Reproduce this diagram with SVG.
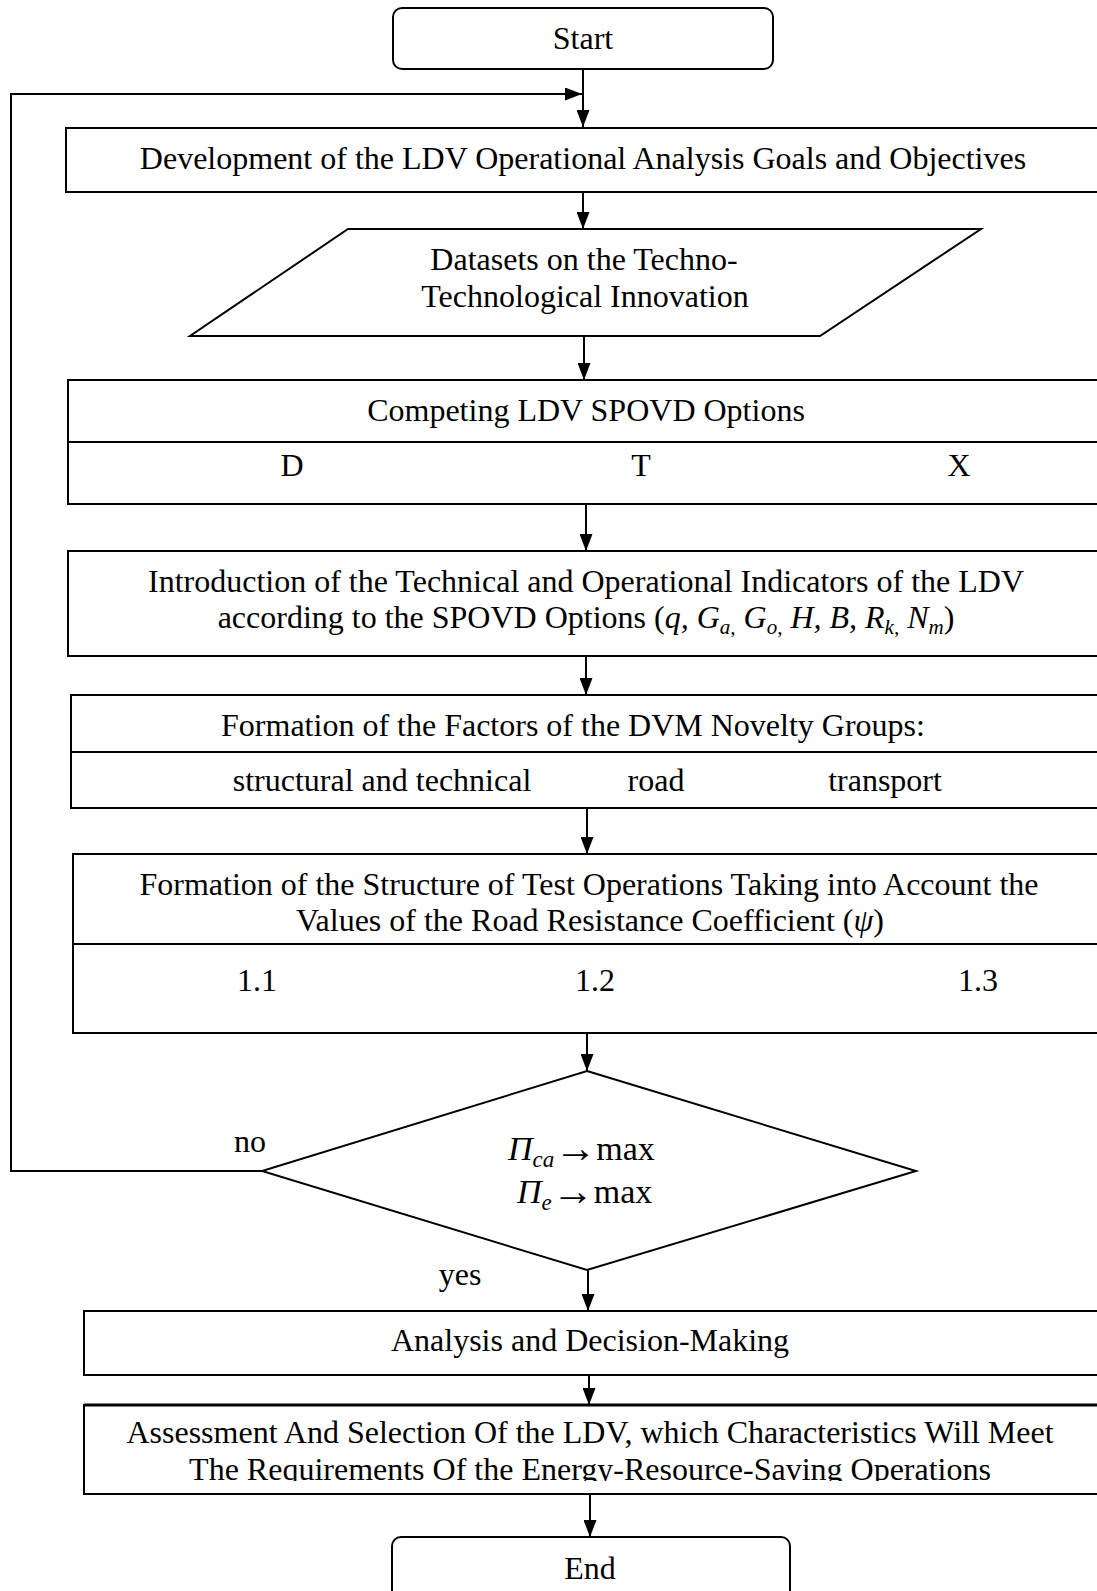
<svg xmlns="http://www.w3.org/2000/svg" width="1097" height="1591" viewBox="0 0 1097 1591">
<style>
.b{fill:#fff;stroke:#000;stroke-width:2}
.d{fill:none;stroke:#000;stroke-width:2}
.c{fill:none;stroke:#000;stroke-width:2}
text{font-family:"Liberation Serif","Times New Roman",serif;font-size:32px;fill:#000}
.m{text-anchor:middle}
.i{font-style:italic}
.big{font-size:34px}
.arr{font-size:42px}
</style>
<defs>
<marker id="ah" markerWidth="17" markerHeight="13" viewBox="0 0 17 13" refX="17" refY="6.5" orient="auto" markerUnits="userSpaceOnUse">
<path d="M0,0 L17,6.5 L0,13 Z" fill="#000"/>
</marker>
<clipPath id="clip8"><rect x="0" y="1405" width="1097" height="76"/></clipPath>
</defs>
<rect x="0" y="0" width="1097" height="1591" fill="#fff"/>
<g id="connectors">
<line class="c" x1="583" y1="70" x2="583" y2="127" marker-end="url(#ah)"/>
<polyline class="c" points="262,1171 11,1171 11,94 582,94" marker-end="url(#ah)"/>
<line class="c" x1="583" y1="193" x2="583" y2="229" marker-end="url(#ah)"/>
<line class="c" x1="584" y1="336" x2="584" y2="380" marker-end="url(#ah)"/>
<line class="c" x1="586" y1="504" x2="586" y2="551" marker-end="url(#ah)"/>
<line class="c" x1="586" y1="656" x2="586" y2="695" marker-end="url(#ah)"/>
<line class="c" x1="587" y1="808" x2="587" y2="854" marker-end="url(#ah)"/>
<line class="c" x1="587" y1="1033" x2="587" y2="1071" marker-end="url(#ah)"/>
<line class="c" x1="588" y1="1270" x2="588" y2="1311" marker-end="url(#ah)"/>
<line class="c" x1="589" y1="1375" x2="589" y2="1405" marker-end="url(#ah)"/>
<line class="c" x1="590" y1="1494" x2="590" y2="1537" marker-end="url(#ah)"/>
</g>
<g id="start">
<rect class="b" x="393" y="8" width="380" height="61" rx="9"/>
<text class="m" x="583" y="49">Start</text>
</g>
<g id="goals">
<rect class="b" x="66" y="128" width="1050" height="64"/>
<text class="m" x="583" y="169">Development of the LDV Operational Analysis Goals and Objectives</text>
</g>
<g id="datasets">
<polygon class="b" points="348,229 981,229 820,336 190,336"/>
<text class="m" x="584" y="270">Datasets on the Techno-</text>
<text class="m" x="585" y="307">Technological Innovation</text>
</g>
<g id="options">
<rect class="b" x="68" y="380" width="1050" height="124"/>
<line class="d" x1="68" y1="442" x2="1097" y2="442"/>
<text class="m" x="586" y="421">Competing LDV SPOVD Options</text>
<text class="m" x="292" y="476">D</text>
<text class="m" x="641" y="476">T</text>
<text class="m" x="959" y="476">X</text>
</g>
<g id="indicators">
<rect class="b" x="68" y="551" width="1050" height="105"/>
<text class="m" x="586" y="592">Introduction of the Technical and Operational Indicators of the LDV</text>
<text class="m" x="586" y="628">according to the SPOVD Options (<tspan class="i">q, G</tspan><tspan class="i" font-size="21" dy="6">a,</tspan><tspan class="i" dy="-6"> G</tspan><tspan class="i" font-size="21" dy="6">o,</tspan><tspan class="i" dy="-6"> H, B, R</tspan><tspan class="i" font-size="21" dy="6">k,</tspan><tspan class="i" dy="-6"> N</tspan><tspan class="i" font-size="21" dy="6">m</tspan><tspan dy="-6">)</tspan></text>
</g>
<g id="factors">
<rect class="b" x="71" y="695" width="1050" height="113"/>
<line class="d" x1="71" y1="752" x2="1097" y2="752"/>
<text class="m" x="573" y="736">Formation of the Factors of the DVM Novelty Groups:</text>
<text class="m" x="382" y="791">structural and technical</text>
<text class="m" x="656" y="791">road</text>
<text class="m" x="885" y="791">transport</text>
</g>
<g id="structure">
<rect class="b" x="73" y="854" width="1050" height="179"/>
<line class="d" x1="73" y1="944" x2="1097" y2="944"/>
<text class="m" x="589" y="895">Formation of the Structure of Test Operations Taking into Account the</text>
<text class="m" x="590" y="931">Values of the Road Resistance Coefficient (<tspan class="i">ψ</tspan>)</text>
<text class="m" x="257" y="991">1.1</text>
<text class="m" x="595" y="991">1.2</text>
<text class="m" x="978" y="991">1.3</text>
</g>
<g id="decision">
<polygon class="b" points="587,1071 916,1171 587,1270 262,1171"/>
<text class="big" x="508" y="1160"><tspan class="i">П</tspan><tspan class="i" font-size="23" dy="7">ca</tspan><tspan class="arr" dy="-5">→</tspan><tspan dy="-2">max</tspan></text>
<text class="big" x="517" y="1203"><tspan class="i">П</tspan><tspan class="i" font-size="23" dy="7">e</tspan><tspan class="arr" dy="-5">→</tspan><tspan dy="-2">max</tspan></text>
<text class="m" x="250" y="1152">no</text>
<text class="m" x="460" y="1285">yes</text>
</g>
<g id="analysis">
<rect class="b" x="84" y="1311" width="1050" height="64"/>
<text class="m" x="590" y="1351">Analysis and Decision-Making</text>
</g>
<g id="assessment">
<rect class="b" x="84" y="1405" width="1050" height="89"/>
<line x1="84" y1="1405" x2="1097" y2="1405" stroke="#000" stroke-width="3"/>
<g clip-path="url(#clip8)">
<text class="m" x="590" y="1443">Assessment And Selection Of the LDV, which Characteristics Will Meet</text>
<text class="m" x="590" y="1480">The Requirements Of the Energy-Resource-Saving Operations</text>
</g>
</g>
<g id="end">
<rect class="b" x="392" y="1537" width="398" height="80" rx="9"/>
<text class="m" x="590" y="1579">End</text>
</g>
</svg>
